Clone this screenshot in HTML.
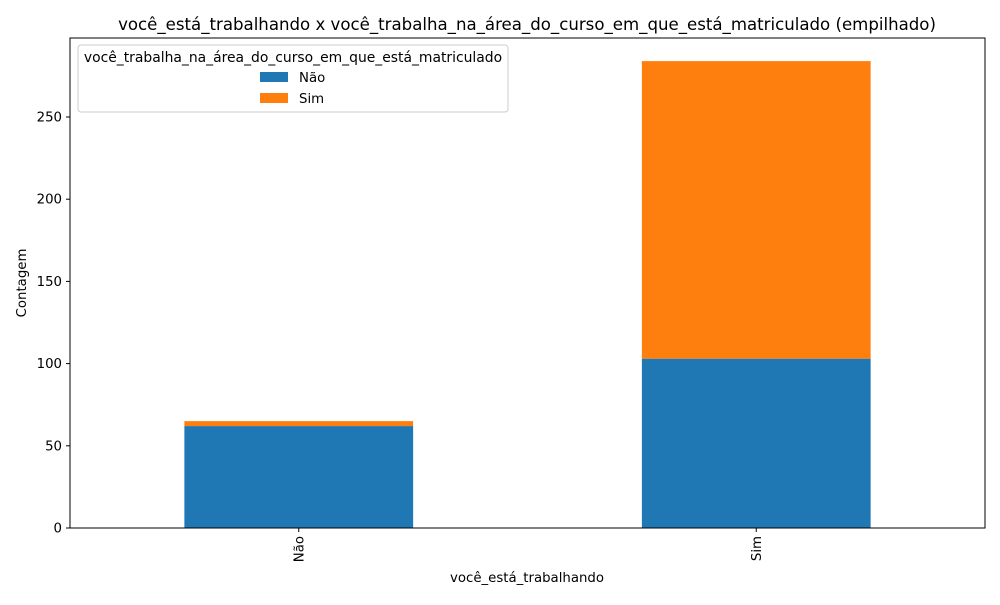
<!DOCTYPE html>
<html><head><meta charset="utf-8"><style>
body{margin:0;background:#fff;font-family:"Liberation Sans","DejaVu Sans",sans-serif}
text{font-family:"DejaVu Sans","Liberation Sans",sans-serif}
</style></head><body>
<svg id="c" width="1000" height="600" viewBox="0 0 1000 600" xmlns="http://www.w3.org/2000/svg">
<text x="527" y="30" font-size="16.6" text-anchor="middle">você_está_trabalhando x você_trabalha_na_área_do_curso_em_que_está_matriculado (empilhado)</text>
<g id="plot"></g>
<rect x="70" y="38" width="915" height="490" fill="none" stroke="#000" stroke-width="1"/>
<text x="527" y="582" font-size="13.3" text-anchor="middle">você_está_trabalhando</text>
<text transform="translate(26,283) rotate(-90)" font-size="13.3" text-anchor="middle">Contagem</text>
<g>
<rect x="78" y="45" width="430" height="67" fill="#fff" stroke="#ccc" rx="3"/>
<text x="293" y="62" font-size="13.9" text-anchor="middle">você_trabalha_na_área_do_curso_em_que_está_matriculado</text>
<rect x="260" y="72" width="28" height="10" fill="#1f77b4"/>
<text x="299" y="82" font-size="13.3">Não</text>
<rect x="260" y="93" width="28" height="10" fill="#ff7f0e"/>
<text x="299" y="103" font-size="13.3">Sim</text>
</g>
</svg>
<script>
const categories=["Não","Sim"];
const seriesNao=[62,103];
const seriesSim=[3,181];
const yTicks=[0,50,100,150,200,250];
const NS="http://www.w3.org/2000/svg";
const L=70,R=985,T=38,B=528;
const y=v=>B-v*(411/250);
const x=i=>L+(i+0.5)*(R-L)/categories.length;
const bw=0.5*(R-L)/2;
const g=document.getElementById('plot');
function mk(t,a){const e=document.createElementNS(NS,t);for(const k in a)e.setAttribute(k,a[k]);g.appendChild(e);return e;}
yTicks.forEach(v=>{
 const l=mk('line',{x1:L-4,x2:L,y1:y(v),y2:y(v),stroke:'#000'});
 
 
 const t=mk('text',{x:L-8,y:y(v)+4.5,'font-size':13.3,'text-anchor':'end'});
 t.textContent=v;
 
 
});
categories.forEach((c,i)=>{
 const cx=x(i);
 const b1=mk('rect',{x:cx-bw/2,y:y(seriesNao[i]),width:bw,height:y(0)-y(seriesNao[i]),fill:'#1f77b4'});
 
 
 const top=seriesNao[i]+seriesSim[i];
 const b2=mk('rect',{x:cx-bw/2,y:y(top),width:bw,height:y(seriesNao[i])-y(top),fill:'#ff7f0e'});
 
 
 const tk=mk('line',{x1:cx,x2:cx,y1:B,y2:B+4,stroke:'#000'});
 
 
 const t=mk('text',{transform:`translate(${cx+4.5},${B+8}) rotate(-90)`,'font-size':13.3,'text-anchor':'end'});
 t.textContent=c;
 
 
});
</script>
</body></html>
